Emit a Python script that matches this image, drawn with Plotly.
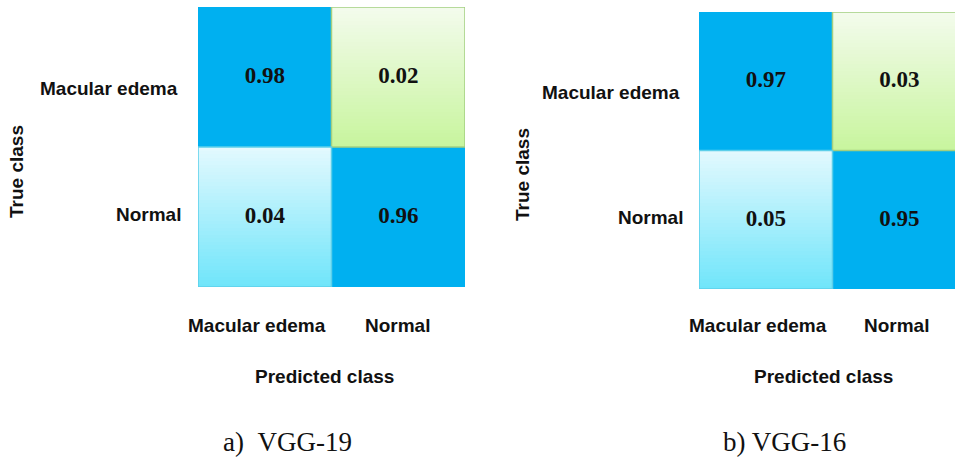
import numpy as np
import plotly.graph_objects as go

# Class names (rows = true class, columns = predicted class)
classes = ["Macular edema", "Normal"]

# Normalised confusion matrices
vgg19_values = [[0.98, 0.02],
                [0.04, 0.96]]
vgg16_values = [[0.97, 0.03],
                [0.05, 0.95]]

panel_titles = ["a)\u00a0\u00a0VGG-19", "b) VGG-16"]
row_axis_title = "True class"
col_axis_title = "Predicted class"

W, H = 955, 459
SANS = "Arial, Liberation Sans, sans-serif"
SERIF = "Times New Roman, Liberation Serif, serif"

DIAG = "#00B0F0"
# off-diagonal cell styles: (top colour, bottom colour, border colour)
STYLE_UPPER = ("#F3FBEC", "#C8F59E", "#A3CF80")
STYLE_LOWER = ("#E2F9FE", "#70E5FA", "#5CCFEA")


def px_x(p):
    return p / W


def px_y(p):
    return 1 - p / H


panels = [
    dict(values=vgg19_values, xa="x", ya="y",
         xdom=[px_x(198), px_x(465)], ydom=[px_y(287), px_y(7)],
         xrange=[-0.5, 1.5]),
    dict(values=vgg16_values, xa="x2", ya="y2",
         xdom=[px_x(699), 1.0], ydom=[px_y(289), px_y(12)],
         xrange=[-0.5, -0.5 + 256 / 133.5]),
]

fig = go.Figure()
shapes = []
N_STEPS = 40

for p in panels:
    vals = np.array(p["values"])
    n = len(classes)
    # base matrix (high values saturate to the solid blue)
    fig.add_trace(go.Heatmap(
        z=vals, x=list(range(n)), y=list(range(n)),
        colorscale=[[0, STYLE_LOWER[0]], [1, DIAG]], zmin=0, zmax=0.9,
        showscale=False, hoverinfo="skip", xaxis=p["xa"], yaxis=p["ya"]))
    # shaded off-diagonal cells
    for r in range(n):
        for c in range(n):
            if r == c:
                continue
            top, bottom, border = STYLE_UPPER if c > r else STYLE_LOWER
            edges = np.linspace(r - 0.5, r + 0.5, N_STEPS + 1)
            fig.add_trace(go.Heatmap(
                z=[[i] for i in range(N_STEPS)],
                x=[c - 0.5, c + 0.5], y=edges,
                colorscale=[[0, top], [1, bottom]],
                showscale=False, hoverinfo="skip",
                xaxis=p["xa"], yaxis=p["ya"]))
            shapes.append(dict(type="rect", xref=p["xa"], yref=p["ya"],
                               x0=c - 0.5, x1=c + 0.5, y0=r - 0.5, y1=r + 0.5,
                               line=dict(color=border, width=1.5),
                               fillcolor="rgba(0,0,0,0)", layer="above"))
            if c < r:
                # soft drop shadow under the lower-left cell
                shapes.append(dict(type="line", xref=p["xa"], yref=p["ya"],
                                   x0=c - 0.48, x1=c + 0.48,
                                   y0=r + 0.515, y1=r + 0.515,
                                   line=dict(color="rgba(120,120,120,0.55)", width=2),
                                   layer="above"))
    # cell values
    xs, ys, texts = [], [], []
    for r in range(n):
        for c in range(n):
            xs.append(c)
            ys.append(r)
            texts.append(f"{vals[r][c]:.2f}")
    fig.add_trace(go.Scatter(
        x=xs, y=ys, text=texts, mode="text", hoverinfo="skip",
        textfont=dict(family=SERIF, size=23, color="#111111", weight="bold"),
        xaxis=p["xa"], yaxis=p["ya"], showlegend=False))

annotations = []


def label(text, x, y, size=19, xanchor="center", angle=0, family=SANS, bold=True):
    annotations.append(dict(
        text=text, xref="paper", yref="paper", x=px_x(x), y=px_y(y),
        xanchor=xanchor, yanchor="middle", showarrow=False, textangle=angle,
        font=dict(family=family, size=size, color="#111111",
                  weight="bold" if bold else "normal")))


# left panel labels
label(classes[0], 180, 88, xanchor="right")
label(classes[1], 183, 214, xanchor="right")
label(row_axis_title, 17, 172, angle=-90)
label(classes[0], 257, 325)
label(classes[1], 397, 325)
label(col_axis_title, 324, 376)
label(panel_titles[0], 287, 442, size=27, family=SERIF, bold=False)

# right panel labels
label(classes[0], 682, 92, xanchor="right")
label(classes[1], 685, 218, xanchor="right")
label(row_axis_title, 522, 175, angle=-90)
label(classes[0], 758, 325)
label(classes[1], 896, 325)
label(col_axis_title, 823, 376)
label(panel_titles[1], 784, 442, size=27, family=SERIF, bold=False)

axis_common = dict(showgrid=False, zeroline=False, showticklabels=False,
                   ticks="", showline=False, fixedrange=True)

layout = dict(
    width=W, height=H, margin=dict(l=0, r=0, t=0, b=0),
    paper_bgcolor="white", plot_bgcolor="white",
    showlegend=False, shapes=shapes, annotations=annotations,
)
for i, p in enumerate(panels):
    sfx = "" if i == 0 else str(i + 1)
    layout["xaxis" + sfx] = dict(axis_common, domain=p["xdom"], range=p["xrange"],
                                 anchor=p["ya"])
    layout["yaxis" + sfx] = dict(axis_common, domain=p["ydom"], range=[1.5, -0.5],
                                 anchor=p["xa"])

fig.update_layout(**layout)
fig.write_html("out.html")
